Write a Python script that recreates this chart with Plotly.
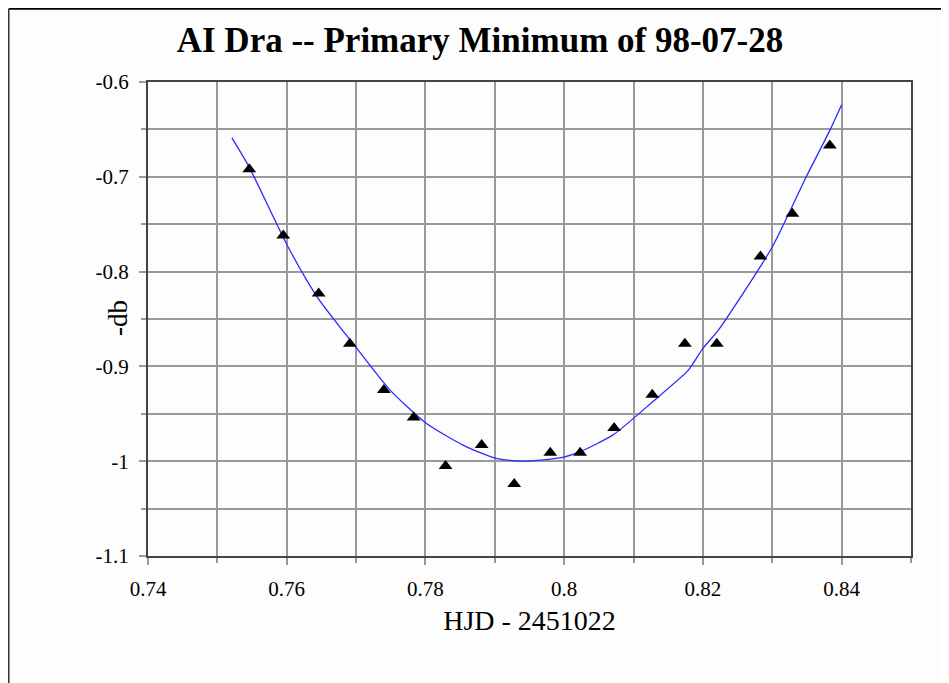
import plotly.graph_objects as go

# observed data (HJD - 2451022, -db)
obs_x = [0.7546, 0.7595, 0.7646, 0.7691, 0.7740, 0.7783, 0.7829, 0.7881, 0.7928,
         0.7980, 0.8023, 0.8072, 0.8127, 0.8174, 0.8220, 0.8283, 0.8329, 0.8383]
obs_y = [-0.692, -0.762, -0.823, -0.876, -0.925, -0.954, -1.005, -0.983, -1.024,
         -0.991, -0.991, -0.965, -0.930, -0.876, -0.876, -0.784, -0.739, -0.667]

# fitted curve
fit_x = [0.7521, 0.7546, 0.7602, 0.7645, 0.7701, 0.7749, 0.7801, 0.7854, 0.7902,
         0.7943, 0.7998, 0.8023, 0.8071, 0.8128, 0.8179, 0.8200, 0.8222, 0.8300,
         0.8349, 0.8383, 0.8400]
fit_y = [-0.659, -0.690, -0.774, -0.828, -0.881, -0.925, -0.960, -0.983, -0.997,
         -1.000, -0.996, -0.990, -0.972, -0.937, -0.904, -0.881, -0.862, -0.774,
         -0.700, -0.651, -0.624]

x_tickvals = [0.74, 0.76, 0.78, 0.80, 0.82, 0.84]
x_ticktext = ["0.74", "0.76", "0.78", "0.8", "0.82", "0.84"]
y_tickvals = [-0.6, -0.7, -0.8, -0.9, -1.0, -1.1]
y_ticktext = ["-0.6", "-0.7", "-0.8", "-0.9", "-1", "-1.1"]

FONT = "Liberation Serif, Times New Roman, serif"

fig = go.Figure()
fig.add_trace(go.Scatter(x=fit_x, y=fit_y, mode="lines",
                         line=dict(color="#2a2aff", width=1.3, shape="spline", smoothing=0.6),
                         hoverinfo="skip", showlegend=False))
fig.add_trace(go.Scatter(x=obs_x, y=obs_y, mode="markers",
                         marker=dict(symbol="triangle-up", size=12, color="black"),
                         showlegend=False))

axis_common = dict(
    showline=True, mirror=True, linecolor="#444444", linewidth=2,
    showgrid=True, gridcolor="#9a9a9a", gridwidth=1.5,
    ticks="outside", ticklen=7, tickcolor="#9a9a9a", tickwidth=1.5,
    zeroline=False,
    tickfont=dict(family=FONT, size=21, color="black"),
)

fig.update_xaxes(
    range=[0.74, 0.85], tickmode="array", tickvals=x_tickvals, ticktext=x_ticktext,
    minor=dict(dtick=0.01, tick0=0.74, showgrid=True, gridcolor="#9a9a9a",
               gridwidth=1.5, ticks="outside", ticklen=5, tickcolor="#9a9a9a"),
    ticklabelstandoff=6,
    title=dict(text="HJD - 2451022", font=dict(family=FONT, size=28, color="black"),
               standoff=10),
    **axis_common,
)
fig.update_yaxes(
    range=[-1.1, -0.6], tickmode="array", tickvals=y_tickvals, ticktext=y_ticktext,
    minor=dict(dtick=0.05, tick0=-1.1, showgrid=True, gridcolor="#9a9a9a",
               gridwidth=1.5, ticks="outside", ticklen=5, tickcolor="#9a9a9a"),
    ticklabelstandoff=6,
    **axis_common,
)

fig.update_layout(
    width=941, height=675,
    margin=dict(l=140, r=38, t=74, b=127),
    paper_bgcolor="#fdfdfd", plot_bgcolor="#fdfdfd",
    title=dict(text="<b>AI Dra -- Primary Minimum of 98-07-28</b>",
               font=dict(family=FONT, size=35, color="black"),
               x=0.5016, xanchor="center", y=0.9526, yanchor="middle",
               xref="container", yref="container"),
    annotations=[
        dict(text="-db", textangle=-90, showarrow=False,
             xref="paper", yref="paper", x=-0.0393, y=0.502,
             xanchor="center", yanchor="middle",
             font=dict(family=FONT, size=27, color="black")),
    ],
    shapes=[
        dict(type="line", xref="paper", yref="paper",
             x0=-0.1825, x1=1.06, y0=1.1545, y1=1.1545,
             line=dict(color="black", width=2)),
        dict(type="line", xref="paper", yref="paper",
             x0=-0.1825, x1=-0.1825, y0=1.1545, y1=-0.3,
             line=dict(color="#333333", width=1.5)),
    ],
)

fig.write_html("out.html")
